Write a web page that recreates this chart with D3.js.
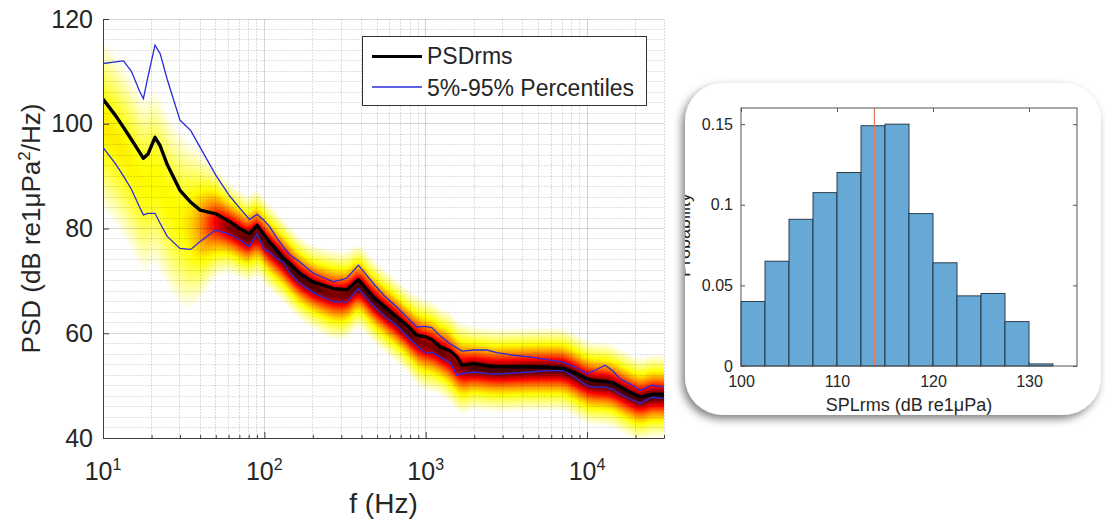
<!DOCTYPE html>
<html>
<head>
<meta charset="utf-8">
<script src="https://cdn.jsdelivr.net/npm/d3@7"></script>
<style>
  body { margin: 0; background: #fff; }
  svg text { font-family: "Liberation Sans", Arial, sans-serif; fill: #262626; }
</style>
</head>
<body>
<div id="chart"></div>
<script>
// spectrum (Hz / dB re 1uPa^2/Hz)
const freq = [10, 12, 13.4, 15, 16.9, 17.8, 19, 21, 22.6, 25,
  30, 35, 40, 50, 61, 70, 81, 90, 100, 108,
  119, 131, 144, 166, 200, 268, 324, 383, 474, 560,
  662, 780, 881, 1000, 1090, 1230, 1415, 1560, 1680, 1980,
  2400, 2760, 3500, 4440, 5500, 7150, 8500, 9980, 11000, 12940,
  14500, 16000, 18500, 21400, 25200, 29800];
const psdRms = [104.7, 101.5, 99.3, 97.0, 94.5, 93.4, 94.2, 97.4, 95.8, 92.2,
  87.3, 85.0, 83.5, 82.8, 81.3, 80.0, 79.0, 80.6, 78.7, 77.4,
  75.9, 74.3, 73.3, 71.4, 69.8, 68.5, 68.3, 70.2, 66.9, 65.0,
  63.1, 61.3, 59.6, 59.3, 58.8, 57.4, 56.6, 55.5, 53.9, 54.2,
  53.8, 53.6, 53.6, 53.6, 53.5, 53.3, 52.4, 51.3, 51.0, 50.8,
  50.5, 49.8, 48.7, 47.8, 48.3, 48.3];
const p95 = [111.5, 111.8, 112.0, 110.0, 106.1, 104.8, 109.0, 115.0, 113.4, 108.5,
  100.7, 98.7, 95.5, 90.2, 86.2, 84.0, 81.7, 82.7, 81.5, 80.3,
  78.3, 76.5, 75.0, 73.6, 71.5, 69.8, 70.5, 73.0, 69.5, 67.0,
  65.0, 62.8, 61.2, 61.3, 61.1, 59.5, 58.0, 57.2, 56.6, 56.8,
  56.8, 56.3, 55.8, 55.5, 55.0, 54.5, 53.5, 52.3, 52.8, 53.9,
  52.8, 51.3, 50.3, 49.1, 50.1, 49.7];
const p5 = [95.5, 92.3, 90.0, 87.5, 84.0, 82.6, 82.9, 82.9, 81.0, 78.5,
  76.2, 76.0, 77.5, 79.7, 78.9, 77.9, 76.5, 79.0, 76.0, 75.5,
  74.3, 73.6, 71.5, 69.5, 67.8, 66.0, 66.0, 68.5, 65.3, 63.2,
  61.5, 59.2, 57.6, 56.2, 56.4, 55.5, 54.4, 52.0, 52.3, 52.6,
  52.3, 52.2, 52.4, 52.6, 52.8, 52.9, 51.5, 50.0, 49.7, 49.7,
  49.3, 48.4, 47.5, 46.6, 47.8, 47.5];

const yTicks = [40, 60, 80, 100, 120];
const decades = [10, 100, 1000, 10000];

// SPLrms histogram (inset)
const histEdges = [100, 102.5, 105, 107.5, 110, 112.5, 115, 117.5, 120, 122.5, 125, 127.5, 130, 132.5];
const histProb = [0.040, 0.065, 0.091, 0.1075, 0.120, 0.149, 0.150, 0.0945, 0.064, 0.0435, 0.045, 0.0275, 0.0013];
const splMean = 113.9;
const histXTicks = [100, 110, 120, 130];
const histYTicks = [0, 0.05, 0.1, 0.15];

const W = 1105, H = 524;
const svg = d3.select('#chart').append('svg')
    .attr('width', W)
    .attr('height', H);
const defs = svg.append('defs');

const m = {left: 103, top: 19, right: 664, bottom: 438};
const x = d3.scaleLog().domain([10, 30000]).range([m.left, m.right]);
const y = d3.scaleLinear().domain([40, 120]).range([m.bottom, m.top]);

defs.append('clipPath').attr('id', 'plot-clip')
  .append('rect')
    .attr('x', m.left).attr('y', m.top)
    .attr('width', m.right - m.left).attr('height', m.bottom - m.top);

// density map behind the curves (flipped "hot" colormap)
const rmsAt = d3.scaleLog().domain(freq).range(psdRms).clamp(true);
const p5At = d3.scaleLog().domain(freq).range(p5).clamp(true);
const hot = d3.scaleLinear()
    .domain([0, 0.25, 0.625, 1])
    .range(['#ffffff', '#ffff00', '#ff0000', '#000000'])
    .clamp(true);
const lut = d3.range(256).map(i => d3.rgb(hot(i / 255)));

const pw = m.right - m.left, ph = m.bottom - m.top;
const raw = d3.range(pw).map(i => {
  const f = x.invert(m.left + i + 0.5);
  const r = rmsAt(f), lo = p5At(f);
  return {c: (r + lo) / 2, w: Math.min(9, Math.max(1.3, r - lo - 0.8))};
});
const smooth = (arr, key, k) => arr.map((_, i) =>
  d3.mean(arr.slice(Math.max(0, i - k), i + k + 1), d => d[key]));
const cc = smooth(raw, 'c', 5);
const ww = smooth(raw, 'w', 12);

const canvas = document.createElement('canvas');
canvas.width = pw;
canvas.height = ph;
const ctx = canvas.getContext('2d');
const img = ctx.createImageData(pw, ph);
for (let i = 0; i < pw; i++) {
  const c = cc[i], w = ww[i];
  const peak = 0.97 - 0.75 * Math.log10(w);
  const ws = w * (1 + 0.045 * w);
  for (let j = 0; j < ph; j++) {
    const v = y.invert(m.top + j + 0.5);
    const z = (v - c) / ws;
    const t = Math.max(0, Math.min(1, peak - 0.57 * Math.log10(1 + z * z)));
    const col = lut[Math.round(t * 255)];
    const k = (j * pw + i) * 4;
    img.data[k] = col.r;
    img.data[k + 1] = col.g;
    img.data[k + 2] = col.b;
    img.data[k + 3] = 255;
  }
}
ctx.putImageData(img, 0, 0);
svg.append('image')
    .attr('x', m.left).attr('y', m.top)
    .attr('width', pw).attr('height', ph)
    .attr('preserveAspectRatio', 'none')
    .attr('href', canvas.toDataURL());

// grid
const minorF = [];
decades.forEach(dd => d3.range(2, 10).forEach(k => { if (k * dd <= 30000) minorF.push(k * dd); }));
const minorY = d3.range(42, 120, 2).filter(v => v % 20 !== 0);
const grid = svg.append('g')
    .attr('shape-rendering', 'crispEdges')
    .attr('stroke', '#000')
    .attr('stroke-width', 1);
grid.selectAll('.vminor').data(minorF).join('line')
    .attr('x1', d => x(d)).attr('x2', d => x(d))
    .attr('y1', m.top).attr('y2', m.bottom)
    .attr('stroke-opacity', 0.13)
    .attr('stroke-dasharray', '2,1');
grid.selectAll('.hminor').data(minorY).join('line')
    .attr('x1', m.left).attr('x2', m.right)
    .attr('y1', d => y(d)).attr('y2', d => y(d))
    .attr('stroke-opacity', 0.13)
    .attr('stroke-dasharray', '2,1');
grid.selectAll('.vmajor').data(decades.slice(1)).join('line')
    .attr('x1', d => x(d)).attr('x2', d => x(d))
    .attr('y1', m.top).attr('y2', m.bottom)
    .attr('stroke-opacity', 0.17);
grid.selectAll('.hmajor').data(yTicks.slice(1)).join('line')
    .attr('x1', m.left).attr('x2', m.right)
    .attr('y1', d => y(d)).attr('y2', d => y(d))
    .attr('stroke-opacity', 0.17);

// curves
const pts = arr => freq.map((f, i) => [f, arr[i]]);
const line = d3.line().x(d => x(d[0])).y(d => y(d[1]));
const curves = svg.append('g').attr('clip-path', 'url(#plot-clip)').attr('fill', 'none');
curves.append('path').attr('d', line(pts(p95)))
    .attr('stroke', '#2b2bd9').attr('stroke-width', 1.3);
curves.append('path').attr('d', line(pts(p5)))
    .attr('stroke', '#2b2bd9').attr('stroke-width', 1.3);
curves.append('path').attr('d', line(pts(psdRms)))
    .attr('stroke', '#000').attr('stroke-width', 3.4)
    .attr('stroke-linejoin', 'round');

// axes
const yAxis = svg.append('g')
    .attr('transform', `translate(${m.left},0)`)
    .call(d3.axisLeft(y).tickValues(yTicks).tickSizeInner(-6).tickSizeOuter(0).tickPadding(10));
const xMinorAxis = svg.append('g')
    .attr('transform', `translate(0,${m.bottom})`)
    .call(d3.axisBottom(x).tickValues(minorF).tickSizeInner(-3).tickSizeOuter(0).tickFormat(''));
const xAxis = svg.append('g')
    .attr('transform', `translate(0,${m.bottom})`)
    .call(d3.axisBottom(x).tickValues(decades).tickSizeInner(-6).tickSizeOuter(0).tickFormat(''));
[yAxis, xAxis, xMinorAxis].forEach(a => {
  a.selectAll('path,line').attr('stroke', '#404040');
  a.selectAll('text').attr('font-size', 25).attr('fill', '#262626').attr('font-family', null);
});

const xl = svg.append('g').selectAll('text').data(decades).join('text')
    .attr('x', d => x(d))
    .attr('y', 480)
    .attr('text-anchor', 'middle')
    .attr('font-size', 25);
xl.append('tspan').text('10');
xl.append('tspan').attr('font-size', 16).attr('dy', -10).text(d => Math.round(Math.log10(d)));

svg.append('text')
    .attr('x', (m.left + m.right) / 2)
    .attr('y', 513)
    .attr('text-anchor', 'middle')
    .attr('font-size', 28)
    .text('f (Hz)');

const yl = svg.append('text')
    .attr('transform', `translate(40,${(m.top + m.bottom) / 2}) rotate(-90)`)
    .attr('text-anchor', 'middle')
    .attr('font-size', 26);
yl.append('tspan').text('PSD (dB re1μPa');
yl.append('tspan').attr('font-size', 17).attr('dy', -10).text('2');
yl.append('tspan').attr('dy', 10).text('/Hz)');

// legend
const lg = svg.append('g');
lg.append('rect')
    .attr('x', 362.5).attr('y', 36.5)
    .attr('width', 284).attr('height', 69)
    .attr('fill', '#fff')
    .attr('stroke', '#333')
    .attr('stroke-width', 1);
lg.append('line').attr('x1', 372).attr('x2', 422).attr('y1', 56.5).attr('y2', 56.5)
    .attr('stroke', '#000').attr('stroke-width', 3);
lg.append('line').attr('x1', 372).attr('x2', 422).attr('y1', 87).attr('y2', 87)
    .attr('stroke', '#2b2bd9').attr('stroke-width', 1.3);
lg.append('text').attr('x', 427).attr('y', 64).attr('font-size', 23).text('PSDrms');
lg.append('text').attr('x', 427).attr('y', 96).attr('font-size', 23).text('5%-95% Percentiles');

// inset panel
const panel = {x: 685, y: 83, w: 416, h: 332, r: 38};
const sh = defs.append('filter').attr('id', 'panel-shadow')
    .attr('x', '-10%').attr('y', '-10%').attr('width', '120%').attr('height', '125%');
sh.append('feDropShadow')
    .attr('dx', -3).attr('dy', 4)
    .attr('stdDeviation', 4)
    .attr('flood-color', '#000')
    .attr('flood-opacity', 0.5);
defs.append('clipPath').attr('id', 'panel-clip')
  .append('rect')
    .attr('x', panel.x).attr('y', panel.y)
    .attr('width', panel.w).attr('height', panel.h)
    .attr('rx', panel.r);
svg.append('rect')
    .attr('x', panel.x).attr('y', panel.y)
    .attr('width', panel.w).attr('height', panel.h)
    .attr('rx', panel.r)
    .attr('fill', '#fff')
    .attr('filter', 'url(#panel-shadow)');

const inset = svg.append('g').attr('clip-path', 'url(#panel-clip)');
const hm = {left: 741, right: 1077, top: 108, bottom: 366};
const hx = d3.scaleLinear().domain([100, 135]).range([hm.left, hm.right]);
const hy = d3.scaleLinear().domain([0, 0.16]).range([hm.bottom, hm.top]);

inset.selectAll('.bar').data(histProb).join('rect')
    .attr('x', (d, i) => hx(histEdges[i]))
    .attr('width', (d, i) => hx(histEdges[i + 1]) - hx(histEdges[i]))
    .attr('y', d => hy(d))
    .attr('height', d => hy(0) - hy(d))
    .attr('fill', '#66a9d7')
    .attr('stroke', '#1f2f3a')
    .attr('stroke-width', 0.9);

inset.append('line')
    .attr('x1', hx(splMean)).attr('x2', hx(splMean))
    .attr('y1', hm.top).attr('y2', hm.bottom)
    .attr('stroke', '#e07a5f')
    .attr('stroke-width', 1.2);

inset.append('rect')
    .attr('x', hm.left).attr('y', hm.top)
    .attr('width', hm.right - hm.left).attr('height', hm.bottom - hm.top)
    .attr('fill', 'none')
    .attr('stroke', '#555')
    .attr('stroke-width', 1);

const hAxes = [
  inset.append('g').attr('transform', `translate(0,${hm.bottom})`)
    .call(d3.axisBottom(hx).tickValues(histXTicks).tickSizeInner(-4).tickSizeOuter(0).tickPadding(10)),
  inset.append('g').attr('transform', `translate(0,${hm.top})`)
    .call(d3.axisTop(hx).tickValues(histXTicks).tickSizeInner(-4).tickSizeOuter(0).tickFormat('')),
  inset.append('g').attr('transform', `translate(${hm.left},0)`)
    .call(d3.axisLeft(hy).tickValues(histYTicks).tickSizeInner(-4).tickSizeOuter(0).tickPadding(8)
      .tickFormat(d => d === 0 ? '0' : String(d))),
  inset.append('g').attr('transform', `translate(${hm.right},0)`)
    .call(d3.axisRight(hy).tickValues(histYTicks).tickSizeInner(-4).tickSizeOuter(0).tickFormat(''))
];
hAxes.forEach(a => {
  a.select('.domain').remove();
  a.selectAll('line').attr('stroke', '#555');
  a.selectAll('text').attr('font-size', 16).attr('fill', '#262626').attr('font-family', null);
});

inset.append('text')
    .attr('x', (hm.left + hm.right) / 2)
    .attr('y', 411)
    .attr('text-anchor', 'middle')
    .attr('font-size', 18)
    .text('SPLrms (dB re1μPa)');

inset.append('text')
    .attr('transform', 'translate(690,235) rotate(-90)')
    .attr('text-anchor', 'middle')
    .attr('font-size', 18)
    .text('Probability');
</script>
</body>
</html>
